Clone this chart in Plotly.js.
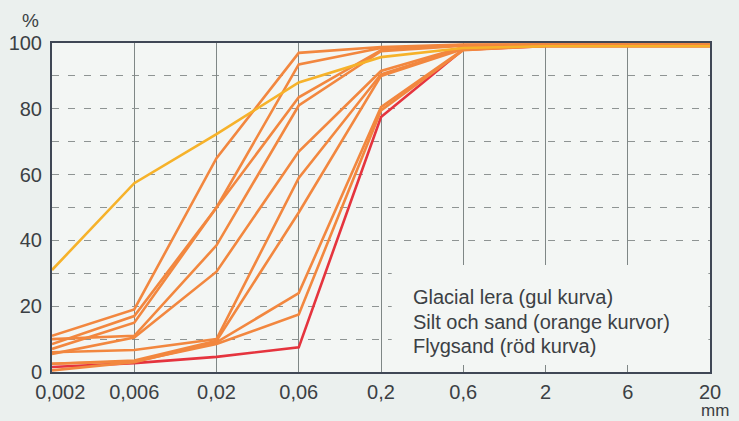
<!DOCTYPE html>
<html>
<head>
<meta charset="utf-8">
<script src="https://cdn.plot.ly/plotly-3.0.1.min.js"></script>
<style>
html,body{margin:0;padding:0;background:#ebf0ee;}
#chart{width:739px;height:421px;}
</style>
</head>
<body>
<div id="chart"></div>
<script>
// Grain size categories (mm)
const grainSizes = ['0,002','0,006','0,02','0,06','0,2','0,6','2','6','20'];
const yTickVals = [0, 20, 40, 60, 80, 100];
const yTickText = ['0', '20', '40', '60', '80', '100'];

// Glacial lera (gul kurva)
const glacialLera = [31, 57.4, 72.3, 88, 95.7, 98.5, 99, 99, 99];
// Flygsand (röd kurva)
const flygsand = [1.5, 2.7, 4.6, 7.5, 77.5, 98, 99, 99, 99];
// Silt och sand (orange kurvor)
const siltSand1 = [11, 19, 65, 97, 98.8, 99.5, 99.5, 99.5, 99.5];
const siltSand2 = [8.5, 17, 50, 93.5, 98.5, 99.4, 99.5, 99.5, 99.5];
const siltSand3 = [7, 15, 50, 83.5, 97.8, 99.3, 99.5, 99.5, 99.5];
const siltSand4 = [10, 11, 38.5, 81, 97.5, 99.2, 99.4, 99.4, 99.4];
const siltSand5 = [5.5, 10.5, 30.5, 67, 91.5, 98.8, 99.3, 99.3, 99.3];
const siltSand6 = [6, 6.7, 10, 59, 90.5, 98.5, 99.3, 99.3, 99.3];
const siltSand7 = [2.5, 3.5, 9.5, 48.5, 90, 98.2, 99.2, 99.2, 99.2];
const siltSand8 = [0.5, 3, 9, 24, 80.5, 98, 99.2, 99.2, 99.2];
const siltSand9 = [2.5, 3.2, 8.5, 17.5, 79.5, 97.8, 99.1, 99.1, 99.1];

const legendLines = ['Glacial lera (gul kurva)', 'Silt och sand (orange kurvor)', 'Flygsand (röd kurva)'];

const ORANGE = '#f2873f', RED = '#e5343e', YELLOW = '#f6b22a';
const TXT = '#3b4044';
const FONT = 'Liberation Sans, Arial, sans-serif';

function line(y, color) {
  return {x: grainSizes, y: y, type: 'scatter', mode: 'lines',
          line: {color: color, width: 2.6}, hoverinfo: 'skip', showlegend: false};
}
const traces = [line(flygsand, RED)];
[siltSand1, siltSand2, siltSand3, siltSand4, siltSand5, siltSand6, siltSand7, siltSand8, siltSand9]
  .forEach(s => traces.push(line(s, ORANGE)));
traces.push(line(glacialLera, YELLOW));

// first x label nudged right as in the reference
const xTickText = grainSizes.map((g, i) => i === 0 ? '\u00a0\u00a0\u00a0' + g : g);

const ys = [0.228, 0.152, 0.079];
const annotations = legendLines.map((t, i) => ({
  text: t, xref: 'paper', yref: 'paper', x: 0.546, y: ys[i],
  xanchor: 'left', yanchor: 'middle', showarrow: false,
  font: {family: FONT, size: 20, color: TXT}
}));
annotations.push({text: '%', xref: 'paper', yref: 'paper', x: -0.032, y: 1.068,
  xanchor: 'center', yanchor: 'middle', showarrow: false, font: {family: FONT, size: 19, color: TXT}});
annotations.push({text: 'mm', xref: 'paper', yref: 'paper', x: 1.008, y: -0.1185,
  xanchor: 'center', yanchor: 'middle', showarrow: false, font: {family: FONT, size: 17, color: TXT}});

const layout = {
  width: 739, height: 421,
  margin: {l: 52, r: 29, t: 43, b: 49, pad: 0},
  paper_bgcolor: '#ebf0ee',
  plot_bgcolor: '#f3f6f4',
  showlegend: false,
  xaxis: {
    type: 'category', range: [0, 8], fixedrange: true,
    tickvals: grainSizes, ticktext: xTickText,
    showgrid: true, gridcolor: '#7f8786', gridwidth: 1,
    showline: true, linecolor: '#3f4755', linewidth: 2, mirror: true,
    ticks: '', ticklabelstandoff: 1, tickfont: {family: FONT, size: 20, color: TXT},
    zeroline: false
  },
  yaxis: {
    range: [0, 100], fixedrange: true,
    tickvals: yTickVals, ticktext: yTickText,
    showgrid: true, gridcolor: '#8e9493', gridwidth: 1, griddash: '7px,9px',
    minor: {dtick: 10, showgrid: true, gridcolor: '#8e9493', gridwidth: 1, griddash: '7px,9px'},
    showline: true, linecolor: '#3f4755', linewidth: 2, mirror: true,
    ticks: '', ticklabelstandoff: 4,
    tickfont: {family: FONT, size: 20, color: TXT},
    zeroline: false
  },
  shapes: [{
    type: 'rect', xref: 'x', yref: 'y', x0: 4.13, x1: 7.98, y0: 2.1, y1: 32.5,
    fillcolor: '#f3f6f4', line: {width: 0}, layer: 'between'
  }],
  annotations: annotations
};

Plotly.newPlot('chart', traces, layout, {staticPlot: true, displayModeBar: false});
</script>
</body>
</html>
